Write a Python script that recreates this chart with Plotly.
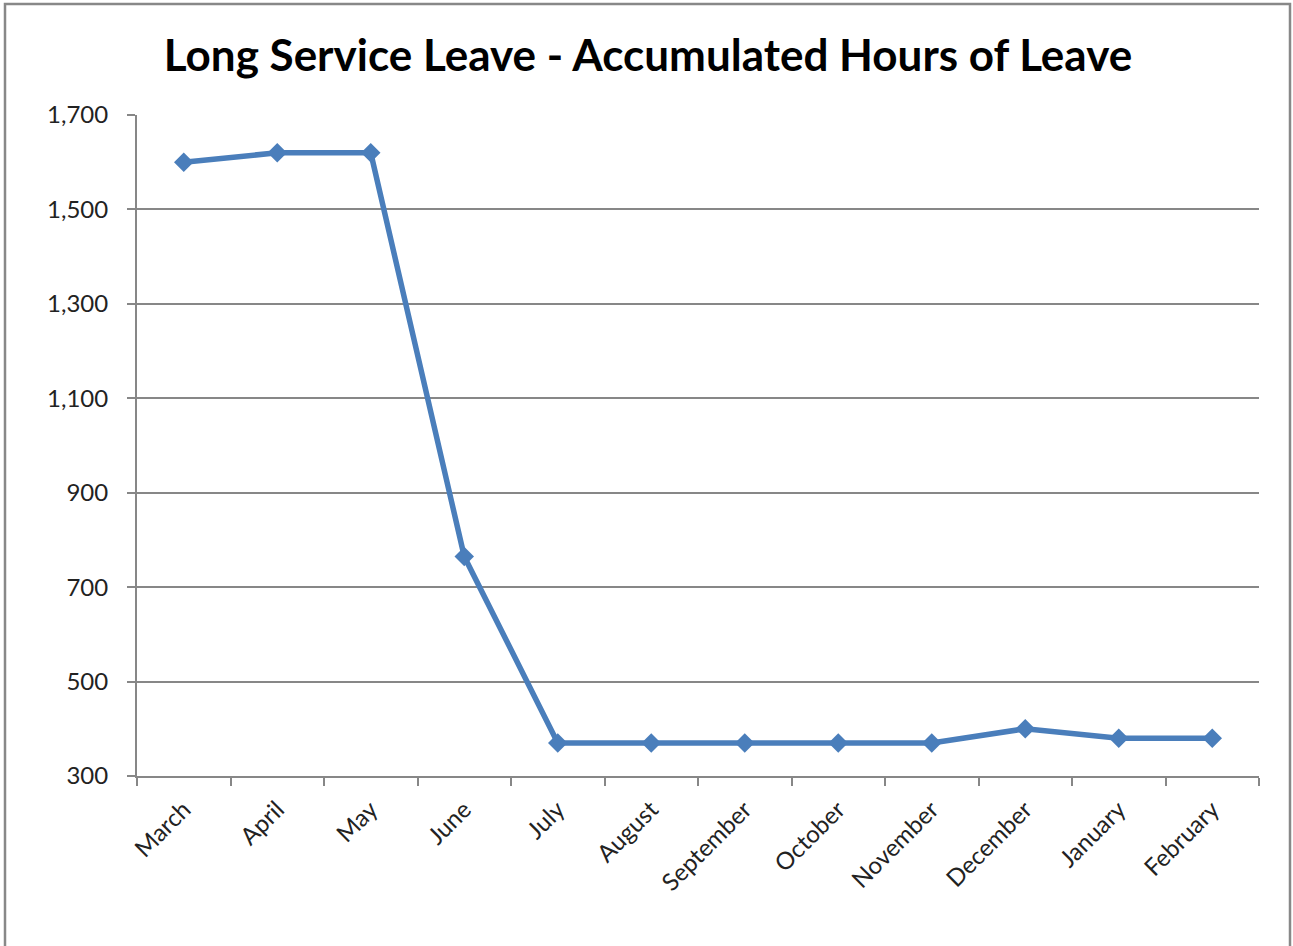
import plotly.graph_objects as go

months = ["March", "April", "May", "June", "July", "August", "September",
          "October", "November", "December", "January", "February"]
hours = [1600, 1620, 1620, 765, 370, 370, 370, 370, 370, 400, 380, 380]

W, H = 1293, 946
L, R, T, B = 137, 34, 115, 170
pw, ph = W - L - R, H - T - B

def px_to_paper_x(px):
    return (px - L) / pw

def px_to_paper_y(py):
    return (H - B - py) / ph

font_family = "Lato, 'Open Sans', sans-serif"
grid_col = "#878787"

fig = go.Figure()
fig.add_trace(go.Scatter(
    x=months, y=hours, mode="lines+markers",
    line=dict(color="#4A7EBB", width=5.5),
    marker=dict(symbol="diamond", size=15, color="#4A7EBB"),
    hoverinfo="x+y",
))

fig.update_layout(
    width=W, height=H,
    margin=dict(l=L, r=R, t=T, b=B),
    paper_bgcolor="white", plot_bgcolor="white",
    showlegend=False,
    title=dict(
        text="<b>Long Service Leave - Accumulated Hours of Leave</b>",
        x=648 / W, xanchor="center",
        y=1 - 56 / H, yanchor="middle", yref="container",
        font=dict(family=font_family, size=44, color="black"),
    ),
    xaxis=dict(
        type="category", tickson="boundaries", ticks="outside", ticklen=8,
        tickwidth=2, tickcolor=grid_col, showline=True, linecolor=grid_col,
        linewidth=2, showgrid=False, tickangle=-45, ticklabelstandoff=8,
        tickfont=dict(family=font_family, size=24, color="#222"),
        range=[-0.5, 11.5],
    ),
    yaxis=dict(
        range=[300, 1700], dtick=200, tick0=300, tickformat=",",
        ticks="outside", ticklen=8, tickwidth=2, tickcolor=grid_col,
        showline=True, linecolor=grid_col, linewidth=2,
        showgrid=True, gridcolor=grid_col, gridwidth=2,
        zeroline=False, ticklabelstandoff=14,
        tickfont=dict(family=font_family, size=24, color="#222"),
    ),
    shapes=[dict(
        type="rect", xref="paper", yref="paper",
        x0=px_to_paper_x(5), x1=px_to_paper_x(1290),
        y0=px_to_paper_y(990), y1=px_to_paper_y(4),
        line=dict(color="#888888", width=2.5), layer="below",
    )],
)

fig.write_html("out.html")
